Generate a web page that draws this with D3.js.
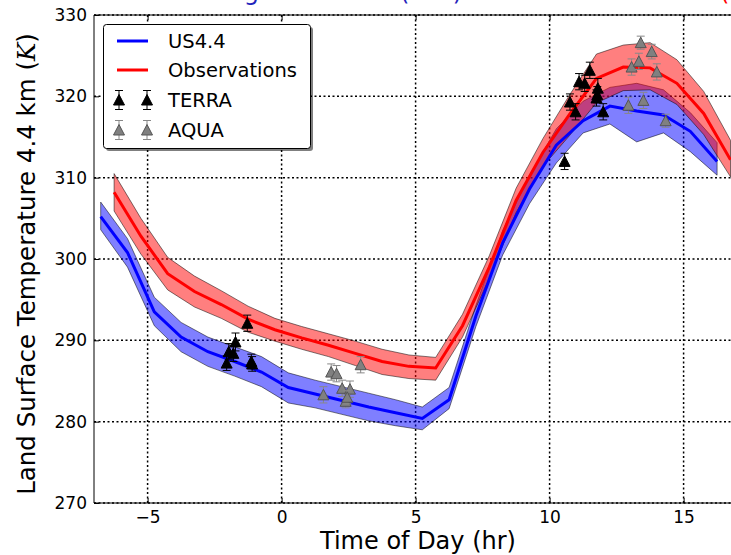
<!DOCTYPE html>
<html>
<head>
<meta charset="utf-8">
<script src="https://cdn.jsdelivr.net/npm/d3@7"></script>
<style>
  body { margin: 0; background: #fff; }
  text { font-family: "DejaVu Sans", sans-serif; }
</style>
</head>
<body>
<svg id="chart" width="731" height="555"></svg>
<script>
// US4.4 model run (blue): hours, mean and spread
var modelHours = [-6.75, -5.75, -4.75, -3.75, -2.75, -1.75, -0.75, 0.25, 1.25, 2.25, 3.25, 4.25,
                  5.25, 6.25, 7.25, 8.25, 9.25, 10.25, 11.25, 12.25, 13.25, 14.25, 15.25, 16.25];
var modelMean  = [305.2, 300.8, 293.5, 290.4, 288.6, 287.4, 286.1, 284.2, 283.4, 282.6, 281.8, 281.1,
                  280.4, 282.7, 293.0, 302.0, 308.6, 314.0, 317.0, 318.8, 318.2, 317.7, 315.7, 312.0];
var modelHi    = [307.0, 302.5, 295.3, 292.2, 290.4, 289.2, 288.0, 286.0, 285.1, 284.3, 283.5, 282.7,
                  281.8, 284.2, 294.3, 303.5, 310.3, 316.0, 319.4, 321.1, 321.6, 320.8, 318.0, 314.3];
var modelLo    = [303.6, 299.0, 291.8, 288.6, 286.8, 285.6, 284.3, 282.3, 281.7, 280.9, 280.1, 279.5,
                  279.0, 281.6, 291.7, 300.5, 306.8, 311.8, 315.5, 316.6, 314.4, 315.5, 313.2, 310.3];

// Observations (red)
var obsHours = [-6.25, -5.25, -4.25, -3.25, -2.25, -1.25, -0.25, 0.75, 1.75, 2.75, 3.75, 4.75,
                5.75, 6.75, 7.75, 8.75, 9.75, 10.75, 11.75, 12.75, 13.75, 14.75, 15.75, 16.75];
var obsMean  = [308.2, 302.8, 298.2, 296.0, 294.4, 292.6, 291.3, 290.3, 289.4, 288.4, 287.4, 286.8,
                286.6, 291.8, 299.0, 307.2, 313.1, 317.8, 322.2, 323.6, 323.5, 321.6, 317.9, 312.2];
var obsHi    = [310.5, 305.0, 300.2, 297.9, 296.1, 294.2, 292.7, 291.7, 290.8, 289.9, 288.9, 288.2,
                287.9, 293.2, 300.4, 308.7, 314.8, 320.2, 325.2, 326.3, 326.6, 324.5, 320.6, 314.6];
var obsLo    = [305.9, 300.6, 296.2, 294.1, 292.7, 291.0, 289.9, 288.9, 288.0, 286.9, 285.8, 285.3,
                285.1, 290.4, 297.6, 305.7, 311.4, 315.2, 319.2, 320.7, 320.8, 319.0, 315.3, 310.1];

// TERRA satellite retrievals
var terraHours = [-2.05, -1.97, -1.80, -1.72, -1.28, -1.13, -1.10,
                  10.56, 10.76, 10.97, 11.10, 11.31, 11.50, 11.80, 11.78, 11.75, 12.00];
var terraTemp  = [287.2, 288.6, 288.4, 289.8, 292.1, 287.4, 287.1,
                  312.0, 319.3, 318.1, 321.8, 321.6, 323.2, 321.0, 320.2, 319.8, 318.1];
var terraErr   = [0.9, 1.0, 1.0, 1.1, 1.0, 0.9, 0.9,
                  1.0, 1.0, 1.0, 1.0, 1.0, 1.0, 1.2, 1.0, 1.0, 1.0];

// AQUA satellite retrievals
var aquaHours = [1.56, 1.85, 2.05, 2.26, 2.55, 2.39, 2.45, 2.95,
                 12.94, 13.50, 13.06, 13.33, 13.40, 13.81, 14.00, 14.33];
var aquaTemp  = [283.3, 286.1, 285.9, 284.1, 284.0, 282.5, 283.0, 287.0,
                 318.9, 319.5, 323.6, 324.3, 326.6, 325.5, 323.0, 317.0];
var aquaErr   = [1.0, 1.0, 1.0, 1.0, 1.0, 0.8, 0.8, 1.0,
                 1.0, 1.0, 1.0, 1.0, 0.8, 0.9, 1.0, 0.8];

var xTicks = [-5, 0, 5, 10, 15];
var yTicks = [270, 280, 290, 300, 310, 320, 330];

var svg = d3.select("#chart");

var x = d3.scaleLinear().domain([-7, 17]).range([94, 737.2]);
var y = d3.scaleLinear().domain([270, 330]).range([503, 15]);

// Title, mostly above the visible area (only descenders show)
var title = svg.append("g").attr("font-size", 24);
title.append("text").attr("x", 259).attr("y", 0).attr("text-anchor", "end")
  .attr("fill", "#2222bb").text("Western Modelling");
title.append("text").attr("x", 431).attr("y", 0).attr("text-anchor", "middle")
  .attr("fill", "#2222bb").text("(LST)");
title.append("text").attr("x", 720).attr("y", 0)
  .attr("fill", "red").text("(Obs)");

svg.append("clipPath").attr("id", "plotClip")
  .append("rect").attr("x", 94).attr("y", 15).attr("width", 650).attr("height", 488);

// Dotted grid
var grid = svg.append("g").attr("stroke", "#000").attr("stroke-width", 1.5)
  .attr("stroke-dasharray", "2,2.5");
grid.selectAll(".gx").data(xTicks).enter().append("line")
  .attr("x1", function (d) { return x(d); }).attr("x2", function (d) { return x(d); })
  .attr("y1", y(330)).attr("y2", y(270));
grid.selectAll(".gy").data(yTicks).enter().append("line")
  .attr("x1", x(-7)).attr("x2", 731)
  .attr("y1", function (d) { return y(d); }).attr("y2", function (d) { return y(d); });

var plot = svg.append("g").attr("clip-path", "url(#plotClip)");

function band(hours, lo, hi) {
  return d3.area()
    .x(function (d, i) { return x(hours[i]); })
    .y0(function (d, i) { return y(lo[i]); })
    .y1(function (d, i) { return y(hi[i]); })(hours);
}
function curve(hours, vals) {
  return d3.line()
    .x(function (d, i) { return x(hours[i]); })
    .y(function (d, i) { return y(vals[i]); })(hours);
}

plot.append("path").attr("d", band(modelHours, modelLo, modelHi) + "Z")
  .attr("fill", "rgba(0,0,255,0.5)").attr("stroke", "rgba(0,0,0,0.5)").attr("stroke-width", 1);
plot.append("path").attr("d", band(obsHours, obsLo, obsHi) + "Z")
  .attr("fill", "rgba(255,0,0,0.5)").attr("stroke", "rgba(0,0,0,0.5)").attr("stroke-width", 1);

plot.append("path").attr("d", curve(obsHours, obsMean))
  .attr("fill", "none").attr("stroke", "red").attr("stroke-width", 3);
plot.append("path").attr("d", curve(modelHours, modelMean))
  .attr("fill", "none").attr("stroke", "blue").attr("stroke-width", 3);

var tri = "M0,-5.5L5.5,5L-5.5,5Z";

// Error bar marker at pixel position
function errMarker(g, px, py, top, bottom, fill, edge, barColor) {
  g.append("line").attr("x1", px).attr("x2", px).attr("y1", top).attr("y2", bottom)
    .attr("stroke", barColor).attr("stroke-width", 1);
  g.append("line").attr("x1", px - 4).attr("x2", px + 4).attr("y1", top).attr("y2", top)
    .attr("stroke", barColor).attr("stroke-width", 1);
  g.append("line").attr("x1", px - 4).attr("x2", px + 4).attr("y1", bottom).attr("y2", bottom)
    .attr("stroke", barColor).attr("stroke-width", 1);
  g.append("path").attr("d", tri).attr("transform", "translate(" + px + "," + py + ")")
    .attr("fill", fill).attr("stroke", edge).attr("stroke-width", 1);
}

var marks = plot.append("g");
aquaHours.forEach(function (h, i) {
  errMarker(marks, x(h), y(aquaTemp[i]), y(aquaTemp[i] + aquaErr[i]), y(aquaTemp[i] - aquaErr[i]),
    "#808080", "#555", "#888");
});
terraHours.forEach(function (h, i) {
  errMarker(marks, x(h), y(terraTemp[i]), y(terraTemp[i] + terraErr[i]), y(terraTemp[i] - terraErr[i]),
    "#000", "#000", "#000");
});

// Axes with inward ticks
var xAxis = svg.append("g").attr("transform", "translate(0," + y(270) + ")")
  .call(d3.axisBottom(x).tickValues(xTicks).tickSize(-5).tickPadding(8));
var xTop = svg.append("g").attr("transform", "translate(0," + y(330) + ")")
  .call(d3.axisTop(x).tickValues(xTicks).tickSize(-5).tickFormat(""));
var yAxis = svg.append("g").attr("transform", "translate(" + x(-7) + ",0)")
  .call(d3.axisLeft(y).tickValues(yTicks).tickSize(-5).tickPadding(7));

[xAxis, xTop, yAxis].forEach(function (a) {
  a.select(".domain").remove();
  a.selectAll("line").attr("stroke", "#000");
  a.selectAll("text").attr("font-size", 17).attr("fill", "#000")
    .style("font-family", "'DejaVu Sans', sans-serif");
});

// Spines
svg.append("path")
  .attr("d", "M731," + y(330) + "H" + x(-7) + "V" + y(270) + "H731")
  .attr("fill", "none").attr("stroke", "#000").attr("stroke-width", 1);

// Axis labels
svg.append("text").attr("x", 418).attr("y", 549).attr("text-anchor", "middle")
  .attr("font-size", 24).text("Time of Day (hr)");

var yl = svg.append("text").attr("transform", "translate(35,264) rotate(-90)")
  .attr("text-anchor", "middle").attr("font-size", 24.5);
yl.append("tspan").text("Land Surface Temperature 4.4 km (");
yl.append("tspan").attr("font-style", "italic").style("font-family", "'DejaVu Serif', serif").text("K");
yl.append("tspan").text(")");

// Legend
var legend = svg.append("g");
legend.append("rect").attr("x", 106).attr("y", 27).attr("width", 207).attr("height", 124)
  .attr("rx", 3).attr("fill", "rgba(0,0,0,0.5)");
legend.append("rect").attr("x", 103.5).attr("y", 24.5).attr("width", 207).attr("height", 124)
  .attr("rx", 3).attr("fill", "#fff").attr("stroke", "#000").attr("stroke-width", 1);

var legendNames = ["US4.4", "Observations", "TERRA", "AQUA"];
var legendRows = [41, 70, 100, 130];
legend.append("line").attr("x1", 117).attr("x2", 148).attr("y1", legendRows[0]).attr("y2", legendRows[0])
  .attr("stroke", "blue").attr("stroke-width", 3);
legend.append("line").attr("x1", 117).attr("x2", 148).attr("y1", legendRows[1]).attr("y2", legendRows[1])
  .attr("stroke", "red").attr("stroke-width", 3);
[119, 147].forEach(function (px) {
  errMarker(legend, px, legendRows[2], legendRows[2] - 9.5, legendRows[2] + 9.5, "#000", "#000", "#000");
  errMarker(legend, px, legendRows[3], legendRows[3] - 9.5, legendRows[3] + 9.5, "#808080", "#555", "#888");
});
legend.selectAll(".lt").data(legendNames).enter().append("text")
  .attr("x", 168).attr("y", function (d, i) { return legendRows[i]; })
  .attr("dy", "0.36em").attr("font-size", 19.5).text(function (d) { return d; });
</script>
</body>
</html>
